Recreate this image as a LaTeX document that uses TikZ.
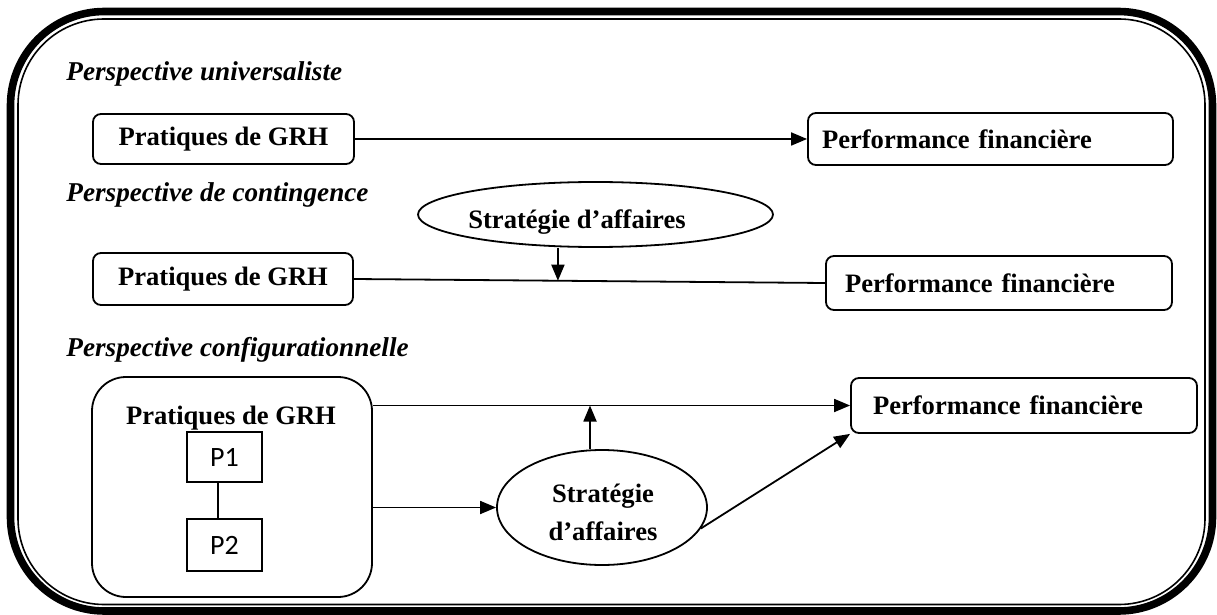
\documentclass[tikz,border=0pt]{standalone}
\usepackage{fontspec}
\setmainfont{Liberation Serif}
\newfontfamily\calibrifont{Carlito}
\usetikzlibrary{shapes.geometric,arrows.meta,calc}
\tikzset{
  txt/.style={font=\fontsize{13.3}{16}\selectfont\bfseries},
  ttl/.style={anchor=base west,inner sep=0pt,font=\fontsize{13.6}{16}\selectfont\bfseries\itshape},
  box/.style={draw,line width=0.9pt,rounded corners=4pt,inner sep=0pt,txt},
  pbox/.style={draw,line width=0.9pt,inner sep=0pt,font=\calibrifont\fontsize{14}{16}\selectfont},
  oval/.style={draw,ellipse,line width=0.9pt,inner sep=0pt},
  arr/.style={line width=0.9pt,-{Triangle[length=8pt,width=6.5pt]}},
  ln/.style={line width=0.9pt}
}
\begin{document}
\begin{tikzpicture}[x=0.5pt,y=-0.5pt]
\useasboundingbox (0,0) rectangle (1217,615);
% frame
\draw[line width=3.8pt,rounded corners=47pt] (10.5,11.5) rectangle (1212.5,611);
\draw[line width=0.8pt,rounded corners=43pt] (18,19) rectangle (1205,604.5);

% universaliste
\node[ttl] (t1) at (66,81) {Perspective universaliste};
\node[box,minimum width=130.5pt,minimum height=25pt] (gA) at (223.5,139) {\raisebox{-1.5pt}{Pratiques de GRH}};
\node[box,minimum height=26pt,text width=168.5pt,inner xsep=7pt,align=left] (pA) at (990.5,139) {\raisebox{-2pt}{Performance financière}};
\draw[arr] (gA.east) -- (pA.west);

% contingence
\node[ttl] (t2) at (66,202) {Perspective de contingence};
\node[oval,minimum width=177.5pt,minimum height=32.5pt] (e1) at (595.5,214.5) {};
\node[txt,inner sep=0pt,anchor=base] (e1t) at (577,228) {Stratégie d’affaires};
\node[box,minimum width=130pt,minimum height=26pt] (gB) at (223,279) {\raisebox{-1.5pt}{Pratiques de GRH}};
\node[box,minimum height=27pt,text width=154pt,inner xsep=9.5pt,align=left] (pB) at (999,283) {\raisebox{-2pt}{Performance financière}};
\draw[ln] (gB.east) -- (pB.west);
\coordinate (m) at ($(gB.east)!0.433!(pB.west)$);
\draw[arr] (e1.south -| m) -- (m);

% configurationnelle
\node[ttl] (t3) at (66,357) {Perspective configurationnelle};
\node[draw,line width=0.9pt,rounded corners=17pt,minimum width=140pt,minimum height=110pt,inner sep=0pt] (G) at (232,487) {};
\node[txt,inner sep=0pt] (Gt) at (231,418) {Pratiques de GRH};
\node[pbox,minimum width=37.5pt,minimum height=25pt] (P1) at (224.5,457) {P1};
\node[pbox,minimum width=37.5pt,minimum height=26pt] (P2) at (224.5,545) {P2};
\draw[ln] ([xshift=-3.25pt]P1.south) -- ([xshift=-3.25pt]P2.north);
\node[box,minimum height=27.5pt,text width=151pt,inner xsep=11pt,align=left] (pC) at (1024,405.5) {\raisebox{-1.5pt}{Performance financière}};
\node[oval,minimum width=105pt,minimum height=57.5pt] (e2) at (602,507.5) {};
\node[txt,inner sep=0pt,align=center,font=\fontsize{13.3}{19}\selectfont\bfseries] (e2t) at (603,512) {Stratégie\\d’affaires};
\draw[arr] (pC.west -| G.east) -- (pC.west);
\draw[arr] (e2.west -| G.east) -- (e2.west);
\draw[arr] ([xshift=-6pt]e2.north) -- ([xshift=-6pt]e2.north |- pC.west);
\draw[arr] (e2.-12) -- (pC.south west);
\end{tikzpicture}
\end{document}
